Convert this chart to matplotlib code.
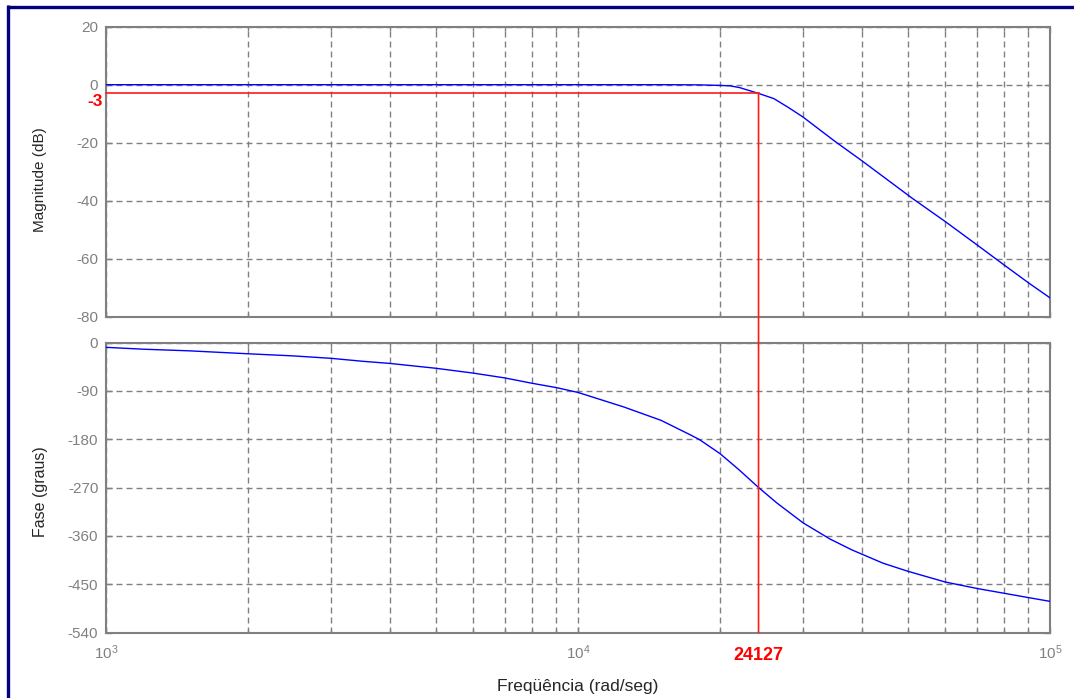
import math
import matplotlib
matplotlib.use("Agg")
import matplotlib.pyplot as plt
from matplotlib.patches import ConnectionPatch
from matplotlib.lines import Line2D
from matplotlib.ticker import FixedLocator, NullFormatter, FuncFormatter

plt.rcParams['font.family'] = ['Liberation Sans', 'DejaVu Sans']
plt.rcParams['axes.unicode_minus'] = False
plt.rcParams['mathtext.fontset'] = 'custom'
plt.rcParams['mathtext.rm'] = 'Liberation Sans'
plt.rcParams['mathtext.default'] = 'rm'

# Magnitude response (rad/s -> dB)
mag_w = [1000, 5000, 10000, 15000, 18000, 20000, 21000, 22000, 24127, 26000,
         28000, 30000, 35000, 40000, 45000, 51000, 60000, 70000, 80000, 90000, 100000]
mag_db = [0, 0, 0, 0, -0.05, -0.25, -0.4, -1.0, -3.0, -4.8,
          -8.0, -11.2, -19.5, -26.3, -32.5, -39.1, -47.2, -55.2, -62.2, -68.3, -73.5]

# Phase response (rad/s -> degrees)
phase_w = [1000, 1200, 1500, 2000, 2500, 3000, 3500, 4000, 5000, 6000, 7000, 8000,
           9000, 10000, 12500, 15000, 17300, 18100, 20000, 22000, 24127, 26400,
           30000, 34200, 38000, 44300, 50000, 60000, 70000, 80000, 90000, 100000]
phase_deg = [-9, -12.5, -15.5, -21, -25, -29.5, -35, -39, -48, -57, -66, -76,
             -84, -93, -120, -145, -172, -181, -207, -238, -270, -299,
             -336, -366, -386, -411, -426, -446, -458, -467, -475, -482]

# -3 dB cutoff marker
cut_w = 24127
cut_db = -3

mag_ticks = [20, 0, -20, -40, -60, -80]
phase_ticks = [0, -90, -180, -270, -360, -450, -540]
decade_ticks = [1e3, 1e4, 1e5]
minor_ticks = [k * 10 ** e for e in (3, 4) for k in range(2, 10)]

GRAY = '#808080'
W, H = 1074, 698

fig = plt.figure(figsize=(W / 100, H / 100), dpi=100)
fig.patch.set_facecolor('white')
ax1 = fig.add_axes([106 / W, 1 - 316.7 / H, 944 / W, 290 / H])
ax2 = fig.add_axes([106 / W, 1 - 632.5 / H, 944 / W, 290 / H])

dash = (0, (4.3, 2.9))
for ax in (ax1, ax2):
    ax.set_xscale('log')
    ax.set_xlim(1e3, 1e5)
    for sp in ax.spines.values():
        sp.set_color(GRAY)
        sp.set_linewidth(1.5)
    ax.xaxis.set_major_locator(FixedLocator(decade_ticks))
    ax.xaxis.set_minor_locator(FixedLocator(minor_ticks))
    ax.xaxis.set_minor_formatter(NullFormatter())
    ax.grid(which='both', axis='x', color=GRAY, linestyle=dash, linewidth=1.0)
    ax.grid(which='major', axis='y', color=GRAY, linestyle=dash, linewidth=1.0)
    ax.tick_params(which='both', direction='in', top=True, right=True,
                   color=GRAY, labelcolor=GRAY, labelsize=11)
    ax.tick_params(which='major', length=4, width=1)
    ax.tick_params(which='minor', length=3, width=1)
    ax.tick_params(axis='y', pad=5.5)
    ax.tick_params(axis='x', pad=8)

# Magnitude plot
ax1.plot(mag_w, mag_db, color='#0000ff', linewidth=1.0, zorder=3)
ax1.set_ylim(-80, 20)
ax1.yaxis.set_major_locator(FixedLocator(mag_ticks))
ax1.tick_params(labelbottom=False)

# Phase plot
ax2.plot(phase_w, phase_deg, color='#0000ff', linewidth=1.0, zorder=3)
ax2.set_ylim(-540, 0)
ax2.yaxis.set_major_locator(FixedLocator(phase_ticks))
ax2.xaxis.set_major_formatter(FuncFormatter(lambda v, p: r'$10^{%d}$' % round(math.log10(v))))

# Cutoff marker lines
ax1.plot([1e3, cut_w], [cut_db, cut_db], color='#ff1a1a', linewidth=1.2, zorder=4,
         clip_on=False)
con = ConnectionPatch(xyA=(cut_w, cut_db), coordsA='data', axesA=ax1,
                      xyB=(cut_w, -540), coordsB='data', axesB=ax2,
                      color='#ff1a1a', linewidth=1.2, zorder=4)
fig.add_artist(con)

ax1.annotate('-3', xy=(0, cut_db), xycoords=('axes fraction', 'data'),
             xytext=(-2, -5.6), textcoords='offset points', ha='right', va='center',
             color='#ff0000', fontweight='bold', fontsize=12.5)
ax2.annotate('24127', xy=(cut_w, 0), xycoords=('data', 'axes fraction'),
             xytext=(0, -16.5), textcoords='offset points', ha='center', va='center',
             color='#ff0000', fontweight='bold', fontsize=13)

# Axis labels
TXT = '#262626'
fig.text(40 / W, 1 - 180 / H, 'Magnitude (dB)', rotation=90, ha='center', va='center',
         fontsize=11, color=TXT)
fig.text(40 / W, 1 - 492 / H, 'Fase (graus)', rotation=90, ha='center', va='center',
         fontsize=11.5, color=TXT)
fig.text(578 / W, 1 - 686 / H, 'Freqüência (rad/seg)', ha='center', va='center',
         fontsize=12.5, color=TXT)

# Window frame
fig.add_artist(Line2D([8.4 / W, 8.4 / W], [0, 1 - 5 / H], transform=fig.transFigure,
                      color='#000080', linewidth=2.4, solid_capstyle='butt'))
fig.add_artist(Line2D([7 / W, 1], [1 - 6.6 / H, 1 - 6.6 / H], transform=fig.transFigure,
                      color='#000080', linewidth=2.4, solid_capstyle='butt'))

fig.savefig('out.png', dpi=100, facecolor='white')
